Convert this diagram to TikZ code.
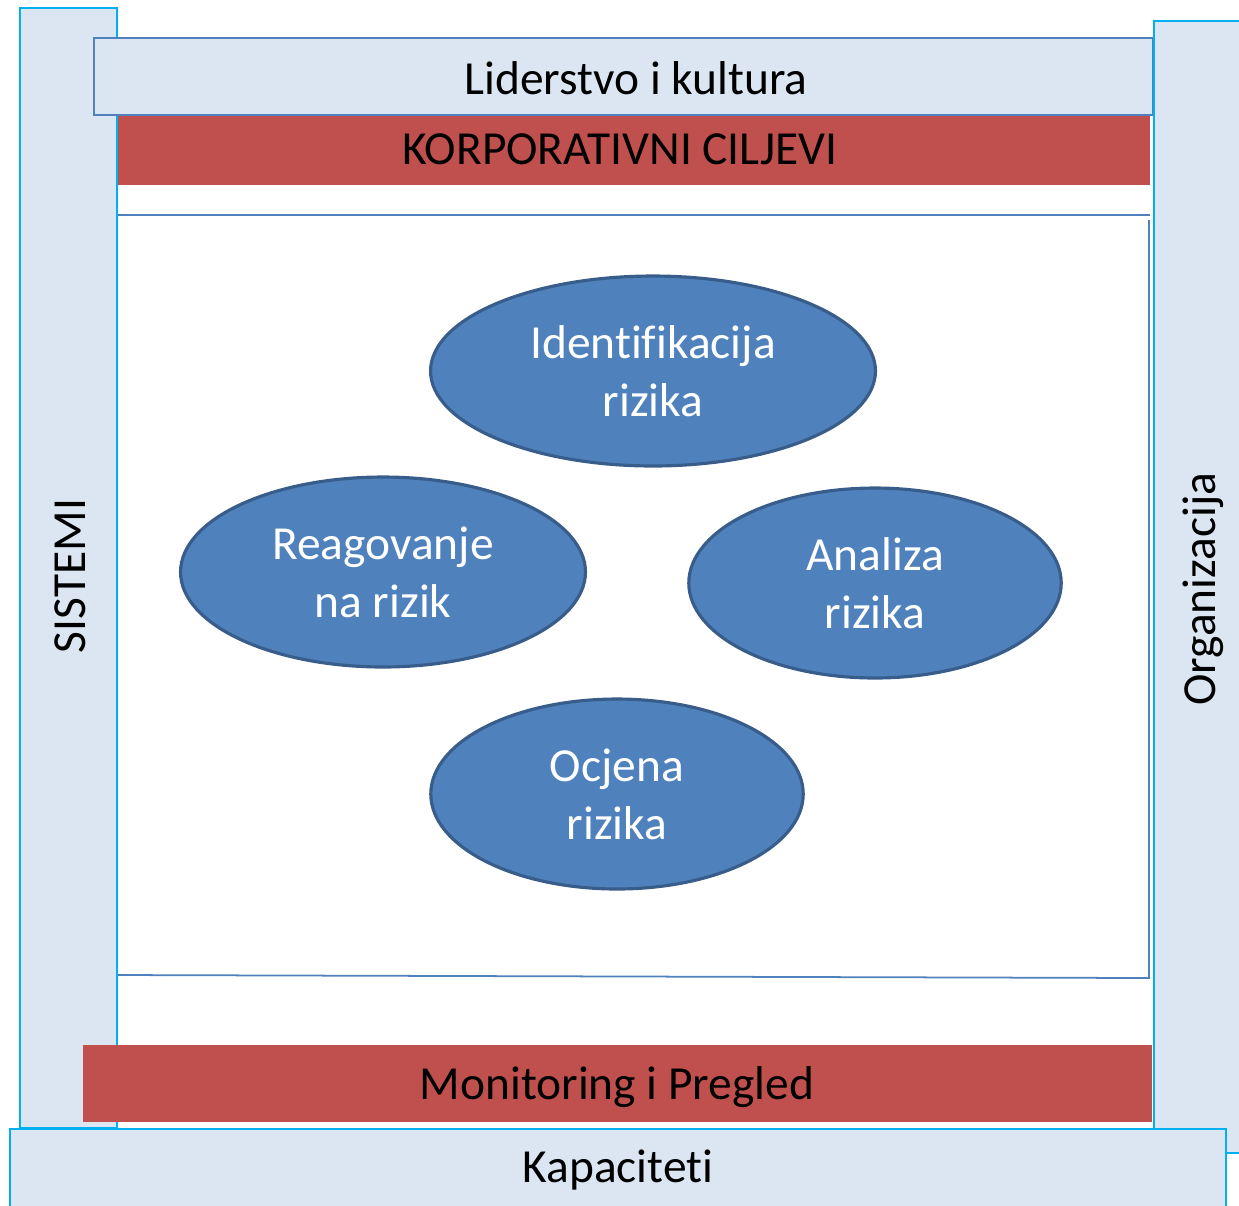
\documentclass[tikz,border=0pt]{standalone}
\usepackage{fontspec}
\setmainfont{Carlito}[Ligatures=NoCommon]
\usepackage{tikz}
\usetikzlibrary{shapes.geometric}

\definecolor{paneblue}{HTML}{DCE6F2}
\definecolor{edgecyan}{HTML}{00B0F0}
\definecolor{midblue}{HTML}{4F81BD}
\definecolor{darkblue}{HTML}{385D8A}
\definecolor{brickred}{HTML}{C0504D}

\tikzset{
  pillar/.style={fill=paneblue, draw=edgecyan, line width=1.2pt},
  beam/.style={fill=paneblue, draw=midblue, line width=1.2pt},
  band/.style={fill=brickred},
  label/.style={font=\fontsize{27}{33}\selectfont, text=black},
  phase/.style={ellipse, fill=midblue, draw=darkblue, line width=1.8pt,
    text=white, align=center, font=\fontsize{27}{33}\selectfont}
}

\begin{document}
\begin{tikzpicture}[x=0.02cm, y=-0.02cm]
	\useasboundingbox (0,0) rectangle (1239,1205);
	\clip (0,0) rectangle (1239,1205);
	% side pillars and top beam
	\filldraw[pillar] (20,8) rectangle (117,1128);
	\filldraw[beam] (94,38) rectangle (1153,115);
	\filldraw[pillar] (1154,21) rectangle (1260,1153);
	\fill[band] (118,116) rectangle (1150,185);
	% inner frame
	\draw[midblue, line width=1pt] (118,215) -- (1150,215);
	\draw[midblue, line width=1pt] (1149,220) -- (1149,978);
	\draw[midblue, line width=1pt] (118,975) -- (1150,978);
	% bottom band and base
	\fill[band] (83,1045) rectangle (1152,1122);
	\filldraw[pillar] (10,1129) rectangle (1226,1230);

	\node[label] (lead) at (636,78) {Liderstvo i kultura};
	\node[label] (goals) at (620,149) {KORPORATIVNI CILJEVI};
	\node[label] (monit) at (617,1087) {Monitoring i Pregled};
	\node[label] (capac) at (618,1170) {Kapaciteti};
	\node[label, rotate=90] (sys) at (70,576) {SISTEMI};
	\node[label, rotate=90] (org) at (1203,589) {Organizacija};

	% process steps
	\node[phase, minimum width=8.9cm, minimum height=3.8cm] (ident) at (653,371) {Identifikacija\\rizika};
	\node[phase, minimum width=8.1cm, minimum height=3.8cm] (react) at (383,572) {Reagovanje\\na rizik};
	\node[phase, minimum width=7.45cm, minimum height=3.8cm] (analy) at (875,583) {Analiza\\rizika};
	\node[phase, minimum width=7.45cm, minimum height=3.8cm] (assess) at (617,794) {Ocjena\\rizika};
\end{tikzpicture}
\end{document}
